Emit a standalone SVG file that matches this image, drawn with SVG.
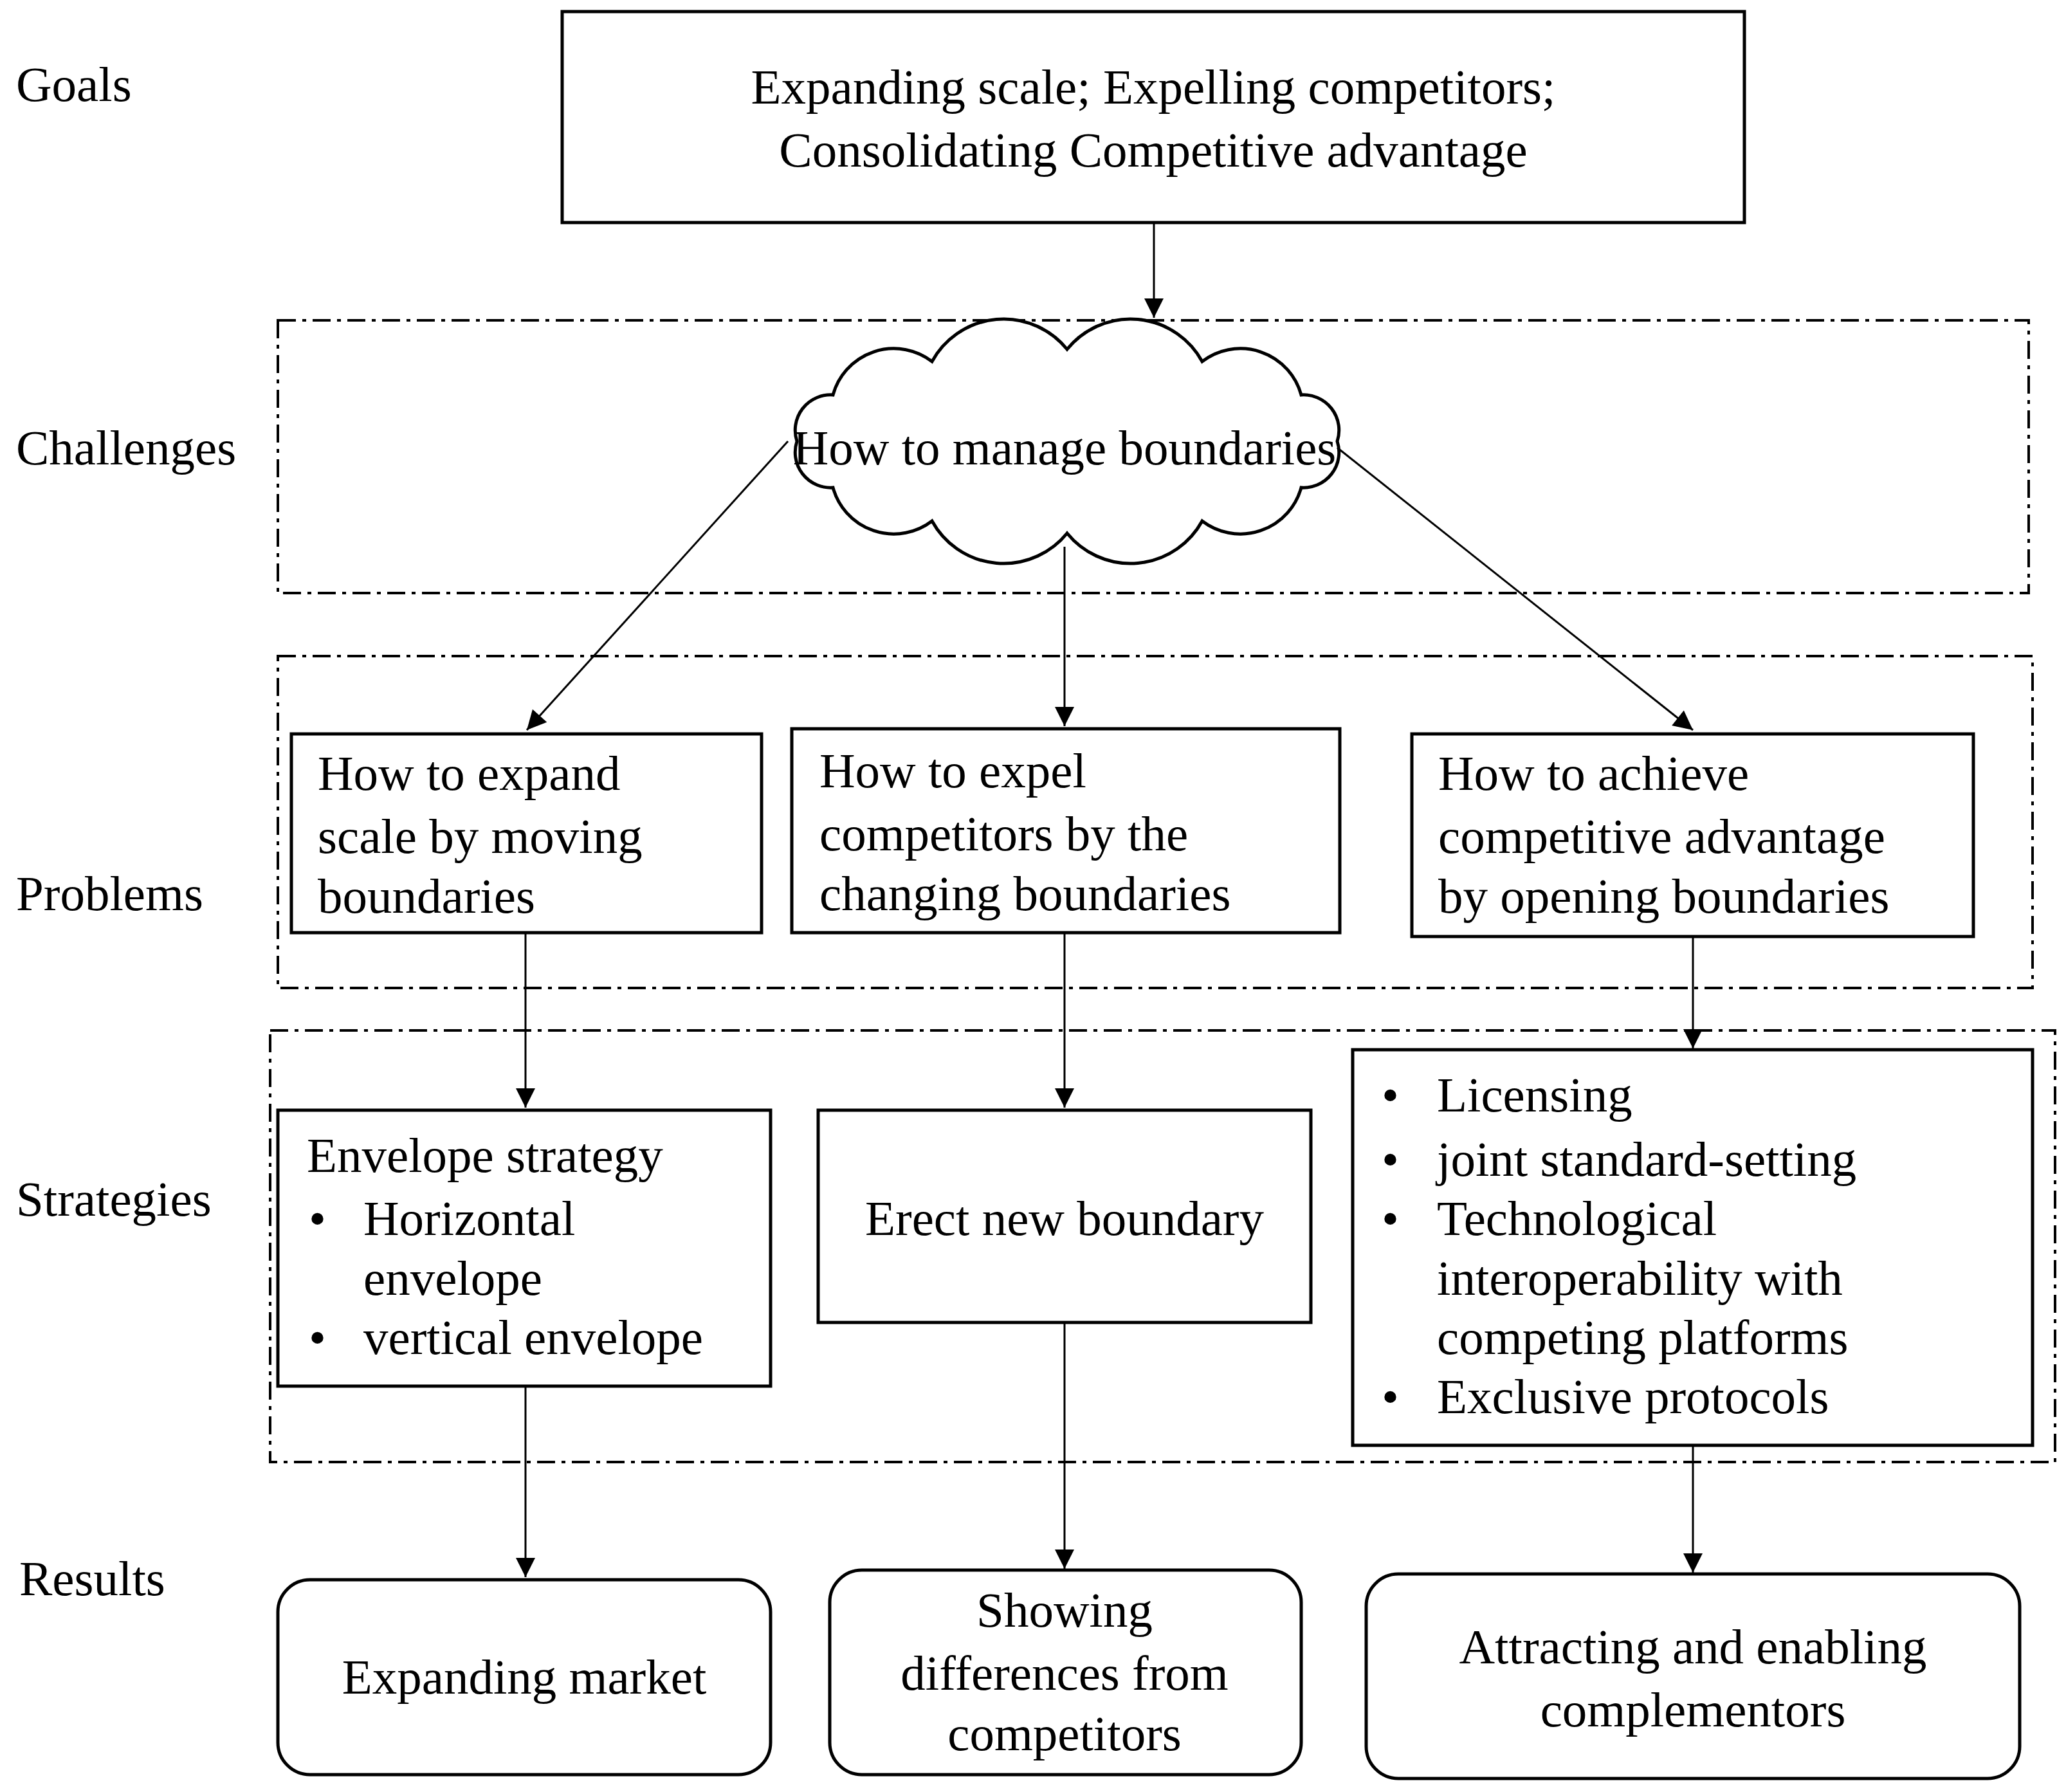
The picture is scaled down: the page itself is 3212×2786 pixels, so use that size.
<svg xmlns="http://www.w3.org/2000/svg" width="3212" height="2786" viewBox="0 0 3212 2786">
<style>
text{font-family:"Liberation Serif","Times New Roman",serif;font-size:77px;fill:#000;dominant-baseline:central}
.c{text-anchor:middle}
.box{fill:#fff;stroke:#000;stroke-width:5}
.dash{fill:none;stroke:#000;stroke-width:4;stroke-dasharray:28 10 6 10}
.ln{stroke:#000;stroke-width:3;fill:none;marker-end:url(#ahs)}
</style>
<defs>
<marker id="ahs" viewBox="0 0 10 10" refX="10" refY="5" markerWidth="36" markerHeight="30" markerUnits="userSpaceOnUse" orient="auto"><path d="M0,0L10,5L0,10z" fill="#000"/></marker></defs>
<g id="labels">
<text x="25" y="131">Goals</text>
<text x="25" y="696">Challenges</text>
<text x="25" y="1389">Problems</text>
<text x="25" y="1864">Strategies</text>
<text x="30" y="2454">Results</text>
</g>
<g id="frames">
<rect class="dash" x="432" y="498" width="2722" height="424"/>
<rect class="dash" x="432" y="1020" width="2728" height="516"/>
<rect class="dash" x="420" y="1602" width="2775" height="671"/>
</g>
<g id="goals"><rect class="box" x="874" y="18" width="1838" height="328"/>
<text class="c" x="1793" y="135">Expanding scale; Expelling competitors;</text>
<text class="c" x="1793" y="233">Consolidating Competitive advantage</text></g>
<g id="challenge">
<path class="box" stroke-width="3" d="M2079,686 A55,55 0 0 1 2023,758 A98,98 0 0 1 1869,810 A127,127 0 0 1 1659,829 A127,127 0 0 1 1449,810 A98,98 0 0 1 1295,758 A55,55 0 0 1 1239,686 A55,55 0 0 1 1295,614 A98,98 0 0 1 1449,562 A127,127 0 0 1 1659,543 A127,127 0 0 1 1869,562 A98,98 0 0 1 2023,614 A55,55 0 0 1 2079,686Z"/>
<text class="c" x="1655" y="696">How to manage boundaries</text></g>
<g id="p1"><rect class="box" x="453" y="1141" width="731" height="309"/>
<text x="494" y="1202">How to expand</text><text x="494" y="1300">scale by moving</text><text x="494" y="1393">boundaries</text></g>
<g id="p2"><rect class="box" x="1231" y="1133" width="852" height="317"/>
<text x="1274" y="1198">How to expel</text><text x="1274" y="1296">competitors by the</text><text x="1274" y="1389">changing boundaries</text></g>
<g id="p3"><rect class="box" x="2195" y="1141" width="873" height="315"/>
<text x="2236" y="1202">How to achieve</text><text x="2236" y="1300">competitive advantage</text><text x="2236" y="1393">by opening boundaries</text></g>
<g id="s1"><rect class="box" x="432" y="1726" width="766" height="429" stroke-width="3"/>
<text x="477" y="1796">Envelope strategy</text>
<text x="480" y="1894">•</text><text x="565" y="1894">Horizontal</text><text x="565" y="1987">envelope</text>
<text x="480" y="2079">•</text><text x="565" y="2079">vertical envelope</text></g>
<g id="s2"><rect class="box" x="1272" y="1726" width="766" height="330" stroke-width="3"/>
<text class="c" x="1655" y="1894">Erect new boundary</text></g>
<g id="s3"><rect class="box" x="2103" y="1632" width="1057" height="615" stroke-width="3"/>
<text x="2148" y="1702">•</text><text x="2234" y="1702">Licensing</text>
<text x="2148" y="1802">•</text><text x="2234" y="1802">joint standard-setting</text>
<text x="2148" y="1894">•</text><text x="2234" y="1894">Technological</text>
<text x="2234" y="1987">interoperability with</text>
<text x="2234" y="2079">competing platforms</text>
<text x="2148" y="2171">•</text><text x="2234" y="2171">Exclusive protocols</text></g>
<g id="r1"><rect class="box" x="432" y="2456" width="766" height="303" rx="50" stroke-width="3"/>
<text class="c" x="815" y="2607">Expanding market</text></g>
<g id="r2"><rect class="box" x="1290" y="2441" width="733" height="318" rx="50" stroke-width="3"/>
<text class="c" x="1655" y="2503">Showing</text><text class="c" x="1655" y="2601">differences from</text><text class="c" x="1655" y="2695">competitors</text></g>
<g id="r3"><rect class="box" x="2124" y="2447" width="1016" height="318" rx="50" stroke-width="3"/>
<text class="c" x="2632" y="2560">Attracting and enabling</text><text class="c" x="2632" y="2658">complementors</text></g>
<g id="connectors">
<line class="ln" x1="1794" y1="346" x2="1794" y2="494"/>
<line class="ln" x1="1225" y1="686" x2="819" y2="1135"/>
<line class="ln" x1="1655" y1="850" x2="1655" y2="1129"/>
<line class="ln" x1="2079" y1="696" x2="2632" y2="1135"/>
<line class="ln" x1="817" y1="1450" x2="817" y2="1722"/>
<line class="ln" x1="1655" y1="1450" x2="1655" y2="1722"/>
<line class="ln" x1="2632" y1="1456" x2="2632" y2="1630"/>
<line class="ln" x1="817" y1="2155" x2="817" y2="2452"/>
<line class="ln" x1="1655" y1="2056" x2="1655" y2="2439"/>
<line class="ln" x1="2632" y1="2247" x2="2632" y2="2445"/>
</g>
</svg>
